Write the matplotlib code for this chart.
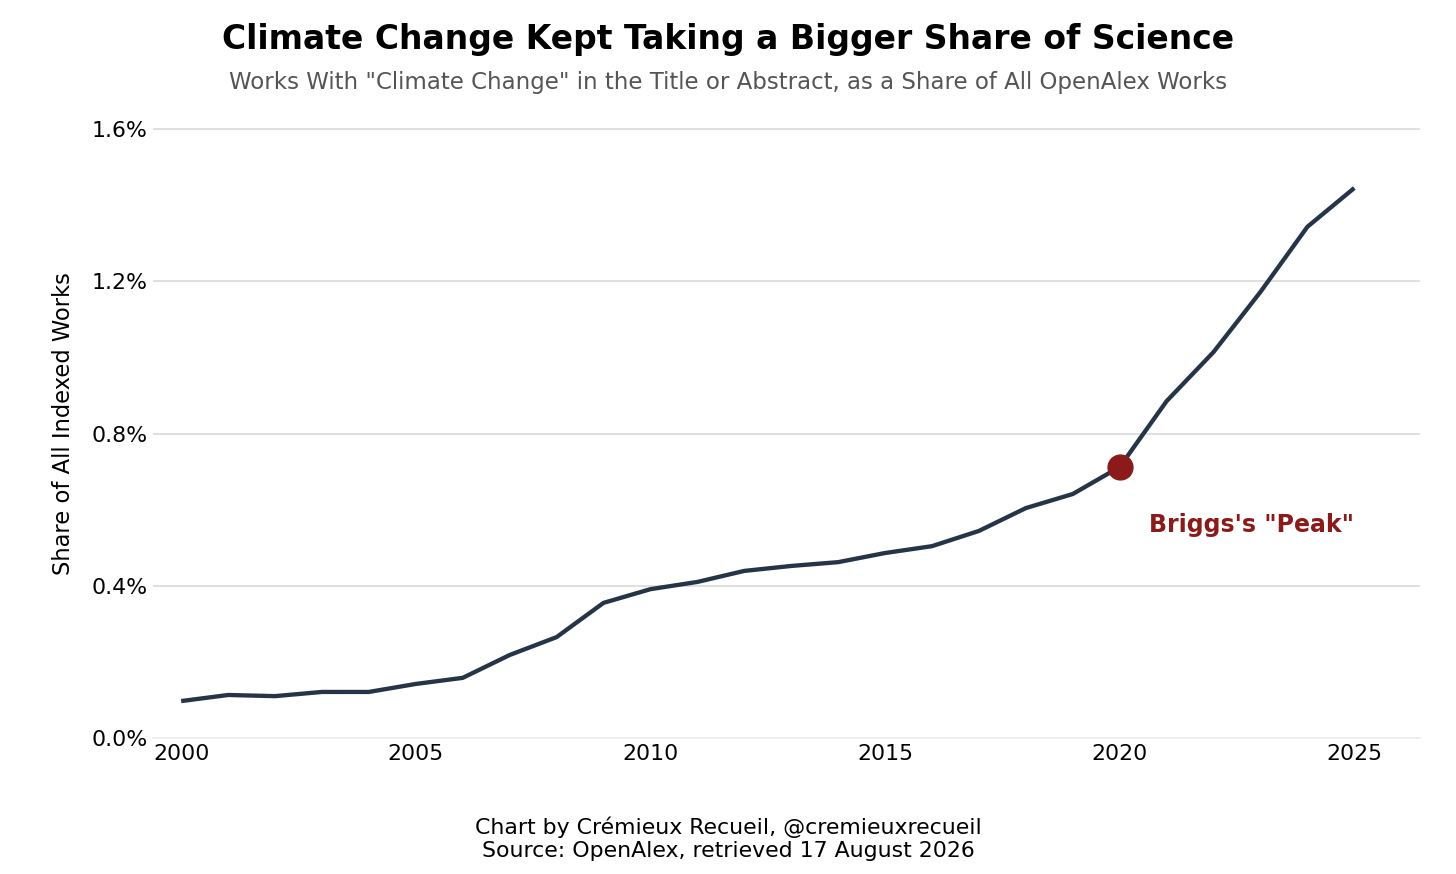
import matplotlib.pyplot as plt
from matplotlib.ticker import FuncFormatter

years = list(range(2000, 2026))
share = [0.097, 0.113, 0.110, 0.121, 0.121, 0.142, 0.158, 0.218, 0.265, 0.355,
         0.391, 0.410, 0.439, 0.452, 0.462, 0.486, 0.504, 0.544, 0.604, 0.641,
         0.712, 0.885, 1.014, 1.172, 1.343, 1.445]

peak_year = 2020
peak_value = 0.712

line_color = "#253447"
red = "#8b1a1a"

fig = plt.figure(figsize=(14.56, 8.74), dpi=100)
ax = fig.add_axes([153 / 1456, 1 - 738 / 874, (1420 - 153) / 1456, (738 - 110) / 874])

ax.plot(years, share, color=line_color, linewidth=3.1, solid_capstyle="butt", zorder=3)
ax.scatter([peak_year], [peak_value], s=320, color=red, zorder=4)
ax.text(2025, 0.56, "Briggs's \"Peak\"", color=red, fontsize=17, fontweight="bold",
        ha="right", va="center")

ax.set_xlim(1999.4, 2026.4)
ax.set_ylim(0, 1.6 * 628 / 609)
ax.set_xticks([2000, 2005, 2010, 2015, 2020, 2025])
ax.set_yticks([0, 0.4, 0.8, 1.2, 1.6])
ax.yaxis.set_major_formatter(FuncFormatter(lambda v, p: f"{v:.1f}%"))
ax.tick_params(length=0, labelsize=15.8, pad=4)
ax.grid(axis="y", color="#d9d9d9", linewidth=1.2)
ax.set_axisbelow(True)
for s in ["top", "right", "left"]:
    ax.spines[s].set_visible(False)
ax.spines["bottom"].set_color("#eeeeee")
ax.spines["bottom"].set_linewidth(1.2)

ax.set_ylabel("Share of All Indexed Works", fontsize=16.3, labelpad=12)

fig.text(0.5, 1 - 39 / 874, "Climate Change Kept Taking a Bigger Share of Science",
         ha="center", va="center", fontsize=23.8, fontweight="bold")
fig.text(0.5, 1 - 82 / 874,
         "Works With \"Climate Change\" in the Title or Abstract, as a Share of All OpenAlex Works",
         ha="center", va="center", fontsize=16.5, color="#555555")
fig.text(0.5, 1 - 839 / 874,
         "Chart by Crémieux Recueil, @cremieuxrecueil\nSource: OpenAlex, retrieved 17 August 2026",
         ha="center", va="center", fontsize=15.8, linespacing=1.2)

fig.savefig("out.png", dpi=100)
